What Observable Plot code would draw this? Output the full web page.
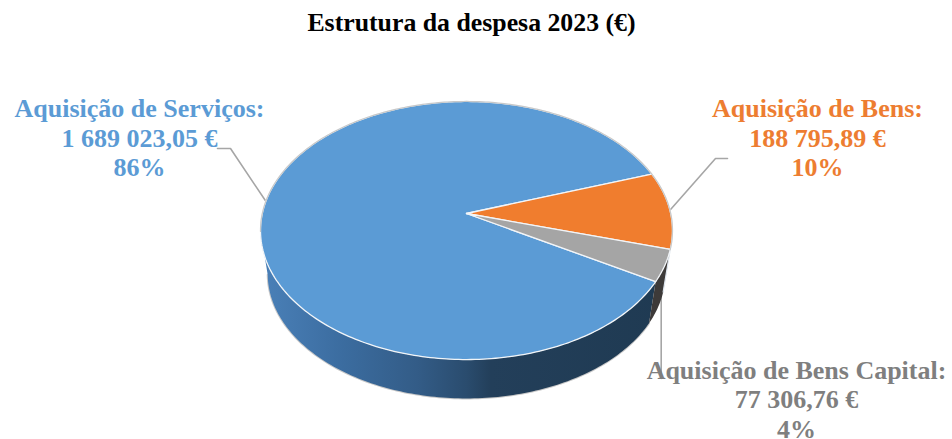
<!DOCTYPE html>
<html lang="pt">
<head>
<meta charset="utf-8">
<script src="https://cdn.jsdelivr.net/npm/d3@7"></script>
<script src="https://cdn.jsdelivr.net/npm/@observablehq/plot@0.6"></script>
<style>
html,body{margin:0;padding:0;background:#fff;overflow:hidden}
#title{height:46px;width:943px;padding-top:9px;box-sizing:border-box;text-align:center;
font:bold 25.8px "Liberation Serif",serif;color:#000;line-height:28px}
svg{display:block}
</style>
</head>
<body>
<div id="title">Estrutura da despesa 2023 (€)</div>
<div id="chart"></div>
<script>
const categories = ["Aquisição de Serviços", "Aquisição de Bens", "Aquisição de Bens Capital"];
const values = [1689023.05, 188795.89, 77306.76];
const colors = ["#5b9bd5", "#f07d2e", "#a5a5a5"];
const labelColors = ["#5b9bd5", "#ed7d31", "#7f7f7f"];

// layout (page pixels / perspective)
const TOP = 46, W = 952, H = 393;
const CX = 466, CY = 213 - TOP, RX = 204.2, RY = 126.8;
const P = 0.1318, DEPTH = 0.347, SHRINK = 0.965, FIRST = 30.1;
const ux = px => (px - CX) / RX, uy = py => (py - TOP - CY) / RY;

const total = d3.sum(values);
const fmt = d3.formatLocale({decimal: ",", thousands: " ", grouping: [3], currency: ["", " €"]}).format("$,.2f");

const rim = (deg, bottom = false) => {
  const t = deg * Math.PI / 180, d = 1 - P * Math.sin(t);
  const k = bottom ? SHRINK : 1;
  return {x: k * Math.cos(t) / d, y: k * Math.sin(t) / d + (bottom ? DEPTH : 0)};
};
const arc = (a, b, bottom) => {
  const n = Math.max(2, Math.ceil(Math.abs(b - a)));
  return d3.range(n + 1).map(i => rim(a + (b - a) * i / n, bottom));
};

// slice angles come from the values
let cur = FIRST;
const slices = categories.map((category, i) => {
  const start = cur, end = cur + values[i] / total * 360;
  cur = end;
  return {category, i, start, end, mid: (start + end) / 2, share: values[i] / total};
});

const topPts = slices.flatMap(s => [{x: 0, y: 0}, ...arc(s.start, s.end), {x: 0, y: 0}].map(p => ({...p, category: s.category})));

const sideOf = (a, b) => [...arc(a, b, false), ...arc(b, a, true)];
const blueSide = sideOf(slices[0].start, 172);
const capSide = sideOf(slices[2].start - 360, slices[2].end - 360);

// label boxes and leader elbows
const labelPos = [[139, 137], [817, 137], [796, 398.5]];
const elbows = [
  [[230, 148], [217, 148]],
  [[715, 158], [727, 158]],
  [[660.7, 378]]
];
const leaders = slices.map((s, i) => {
  const start = rim(s.mid > 360 ? s.mid - 360 : s.mid);
  const first = i === 2 ? {x: ux(660.7), y: start.y} : start;
  return {i, pts: [first, ...elbows[i].map(([a, b]) => ({x: ux(a), y: uy(b)}))]};
}).flatMap(l => l.pts.map(p => ({...p, i: l.i})));

const labels = slices.map((s, i) => ({
  x: ux(labelPos[i][0]), y: uy(labelPos[i][1]),
  text: `${s.category}:\n${fmt(values[i])}\n${Math.round(s.share * 100)}%`,
  color: labelColors[i]
}));

const defs = () => {
  const d = d3.create("svg:defs");
  const g = d.append("linearGradient").attr("id", "blueSide").attr("gradientUnits", "userSpaceOnUse")
    .attr("x1", CX - RX).attr("x2", CX + RX).attr("y1", 0).attr("y2", 0);
  [[0, "#4a80b8"], [0.2, "#3b6c9f"], [0.38, "#335c87"], [0.5, "#2a4c6e"], [0.56, "#233f5a"], [1, "#1f3a52"]]
    .forEach(([o, c]) => g.append("stop").attr("offset", o).attr("stop-color", c));
  return d.node();
};

const chart = Plot.plot({
  width: W, height: H, margin: 0,
  x: {axis: null, domain: [-1, 1], range: [CX - RX, CX + RX]},
  y: {axis: null, domain: [-1, 1], range: [CY - RY, CY + RY]},
  color: {domain: categories, range: colors},
  marks: [
    defs,
    Plot.line(leaders, {x: "x", y: "y", z: "i", stroke: "#a6a6a6", strokeWidth: 1.6}),
    Plot.line(arc(slices[0].start, 172, true), {x: "x", y: "y", stroke: "#c8c8c8", strokeWidth: 2}),
    Plot.line(blueSide, {x: "x", y: "y", fill: "url(#blueSide)", stroke: "none"}),
    Plot.line(capSide, {x: "x", y: "y", fill: "#3d3a39", stroke: "none"}),
    Plot.line([rim(slices[2].start), rim(slices[2].start, true)], {x: "x", y: "y", stroke: "#dfe6ee", strokeWidth: 1.2}),
    Plot.line(topPts, {x: "x", y: "y", z: "category", fill: "category", stroke: "#f2f5f8", strokeWidth: 1.3, strokeLinejoin: "round"}),
    Plot.line(arc(172, 376), {x: "x", y: "y", stroke: "#c8c8c8", strokeWidth: 1.2}),
    Plot.text(labels, {x: "x", y: "y", text: "text", fill: "color", fontSize: 26, fontWeight: "bold",
      fontFamily: "Liberation Serif", lineHeight: 1.135, textAnchor: "middle"})
  ]
});
document.getElementById("chart").append(chart);
</script>
</body>
</html>
